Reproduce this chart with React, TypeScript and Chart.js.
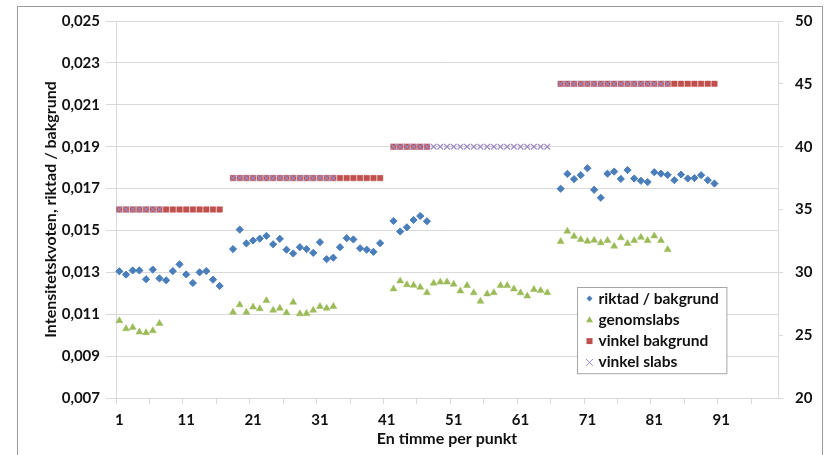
import React, { useEffect, useRef } from 'react';
import { Chart, registerables } from 'chart.js';

Chart.register(...registerables);

// ---- data ----
const categories: string[] = Array.from({ length: 99 }, (_, i) => String(i + 1));
const xTickLabels = ['1', '11', '21', '31', '41', '51', '61', '71', '81', '91'];
const segmentStarts = [1, 18, 42, 67];

const riktad1 = [0.01305, 0.01289, 0.01309, 0.01309, 0.01267, 0.01313, 0.01271, 0.01262, 0.01306, 0.01338, 0.0129, 0.01249, 0.013, 0.01306, 0.01265, 0.01235];
const riktad2 = [0.01411, 0.01504, 0.01438, 0.01452, 0.01461, 0.01474, 0.01434, 0.0146, 0.01408, 0.0139, 0.0142, 0.01411, 0.01393, 0.01444, 0.01363, 0.0137, 0.0142, 0.01463, 0.01457, 0.01415, 0.01408, 0.01398, 0.01439];
const riktad3 = [0.01545, 0.01495, 0.01515, 0.0155, 0.01569, 0.01544];
const riktad4 = [0.01699, 0.0177, 0.01745, 0.01764, 0.01797, 0.01694, 0.01656, 0.01771, 0.01781, 0.01746, 0.01788, 0.01748, 0.01737, 0.01731, 0.01778, 0.01771, 0.01765, 0.0174, 0.01767, 0.01748, 0.0175, 0.01764, 0.0174, 0.01724];

const genomslabs1 = [0.01069, 0.01031, 0.01037, 0.01015, 0.01012, 0.01021, 0.01056];
const genomslabs2 = [0.0111, 0.01145, 0.0111, 0.01134, 0.01126, 0.01165, 0.01119, 0.01129, 0.01107, 0.01157, 0.01102, 0.01104, 0.01119, 0.01137, 0.01129, 0.01137];
const genomslabs3 = [0.01221, 0.01259, 0.01241, 0.01238, 0.01229, 0.01203, 0.01248, 0.01254, 0.01254, 0.01243, 0.01211, 0.01237, 0.01202, 0.01162, 0.01197, 0.01203, 0.01237, 0.01237, 0.01221, 0.01202, 0.01187, 0.01218, 0.01213, 0.01203];
const genomslabs4 = [0.01447, 0.01496, 0.01472, 0.01457, 0.01449, 0.01453, 0.01441, 0.01452, 0.01425, 0.01465, 0.01438, 0.01452, 0.01467, 0.01452, 0.01474, 0.01452, 0.01409];

const vinkelBakgrund1 = [35, 35, 35, 35, 35, 35, 35, 35, 35, 35, 35, 35, 35, 35, 35, 35];
const vinkelBakgrund2 = [37.5, 37.5, 37.5, 37.5, 37.5, 37.5, 37.5, 37.5, 37.5, 37.5, 37.5, 37.5, 37.5, 37.5, 37.5, 37.5, 37.5, 37.5, 37.5, 37.5, 37.5, 37.5, 37.5];
const vinkelBakgrund3 = [40, 40, 40, 40, 40, 40];
const vinkelBakgrund4 = [45, 45, 45, 45, 45, 45, 45, 45, 45, 45, 45, 45, 45, 45, 45, 45, 45, 45, 45, 45, 45, 45, 45, 45];

const vinkelSlabs1 = [35, 35, 35, 35, 35, 35, 35];
const vinkelSlabs2 = [37.5, 37.5, 37.5, 37.5, 37.5, 37.5, 37.5, 37.5, 37.5, 37.5, 37.5, 37.5, 37.5, 37.5, 37.5, 37.5];
const vinkelSlabs3 = [40, 40, 40, 40, 40, 40, 40, 40, 40, 40, 40, 40, 40, 40, 40, 40, 40, 40, 40, 40, 40, 40, 40, 40];
const vinkelSlabs4 = [45, 45, 45, 45, 45, 45, 45, 45, 45, 45, 45, 45, 45, 45, 45, 45, 45];

const seriesNames = ['riktad / bakgrund', 'genomslabs', 'vinkel bakgrund', 'vinkel slabs'];
const leftTitle = 'Intensitetskvoten, riktad / bakgrund';
const xTitle = 'En timme per punkt';

// ---- styles ----
const FONT = 'Lato, "Open Sans", sans-serif';
const TEXT = '#111111';
const GRID = '#d9d9d9';
const BLUE = '#4A7EBB';
const GREEN = '#9BBB59';
const RED = '#C0504D';
const PURPLE = '#9C89C2';

function toPoints(segments: number[][]) {
  return segments.flatMap((seg, s) => seg.map((v, i) => ({ x: String(segmentStarts[s] + i), y: v })));
}

function drawMarker(ctx: CanvasRenderingContext2D, kind: number, x: number, y: number) {
  ctx.save();
  if (kind === 0) {
    ctx.fillStyle = BLUE;
    ctx.beginPath();
    ctx.moveTo(x, y - 3);
    ctx.lineTo(x + 3, y);
    ctx.lineTo(x, y + 3);
    ctx.lineTo(x - 3, y);
    ctx.closePath();
    ctx.fill();
  } else if (kind === 1) {
    ctx.fillStyle = GREEN;
    ctx.beginPath();
    ctx.moveTo(x, y - 3.5);
    ctx.lineTo(x + 3.5, y + 2.5);
    ctx.lineTo(x - 3.5, y + 2.5);
    ctx.closePath();
    ctx.fill();
  } else if (kind === 2) {
    ctx.fillStyle = RED;
    ctx.fillRect(x - 3, y - 3, 6, 6);
  } else {
    ctx.strokeStyle = PURPLE;
    ctx.lineWidth = 1;
    ctx.beginPath();
    ctx.moveTo(x - 3.5, y - 3.5);
    ctx.lineTo(x + 3.5, y + 3.5);
    ctx.moveTo(x + 3.5, y - 3.5);
    ctx.lineTo(x - 3.5, y + 3.5);
    ctx.stroke();
  }
  ctx.restore();
}

const boxLegend = {
  id: 'boxLegend',
  afterDraw(chart: any) {
    const { ctx, chartArea } = chart;
    ctx.save();
    ctx.font = `bold 15.5px ${FONT}`;
    const labels: string[] = chart.data.datasets.map((d: any) => d.label);
    const textW = Math.max(...labels.map((l) => ctx.measureText(l).width));
    const rowH = 21.3;
    const x0 = Math.round(chartArea.left + chartArea.width * 0.696) + 0.5;
    const y0 = Math.round(chartArea.top + chartArea.height * 0.706) + 0.5;
    const w = 21 + textW + 8;
    const h = rowH * labels.length + 1;
    ctx.fillStyle = '#ffffff';
    ctx.fillRect(x0, y0, w, h);
    ctx.strokeStyle = '#a6a6a6';
    ctx.lineWidth = 1;
    ctx.strokeRect(x0, y0, w, h);
    ctx.textBaseline = 'middle';
    ctx.textAlign = 'left';
    labels.forEach((l, i) => {
      const cy = y0 + 11 + i * rowH;
      drawMarker(ctx, i, x0 + 12, cy);
      ctx.fillStyle = TEXT;
      ctx.fillText(l, x0 + 21, cy);
    });
    ctx.restore();
  },
};

export default function App() {
  const ref = useRef<HTMLCanvasElement | null>(null);

  useEffect(() => {
    if (!ref.current) return;
    const tickFont = { family: FONT, size: 15, weight: 'bold' as const };
    const titleFont = { family: FONT, size: 16, weight: 'bold' as const };
    const chart = new Chart(ref.current, {
      type: 'line',
      data: {
        labels: categories,
        datasets: [
          {
            label: seriesNames[0],
            data: toPoints([riktad1, riktad2, riktad3, riktad4]) as any,
            yAxisID: 'y',
            showLine: false,
            pointStyle: 'rectRot',
            pointRadius: 3.6,
            pointBackgroundColor: BLUE,
            pointBorderColor: BLUE,
            pointBorderWidth: 1,
            backgroundColor: BLUE,
            borderColor: BLUE,
            order: 4,
          },
          {
            label: seriesNames[1],
            data: toPoints([genomslabs1, genomslabs2, genomslabs3, genomslabs4]) as any,
            yAxisID: 'y',
            showLine: false,
            pointStyle: 'triangle',
            pointRadius: 4,
            pointBackgroundColor: GREEN,
            pointBorderColor: GREEN,
            pointBorderWidth: 0.5,
            backgroundColor: GREEN,
            borderColor: GREEN,
            order: 3,
          },
          {
            label: seriesNames[2],
            data: toPoints([vinkelBakgrund1, vinkelBakgrund2, vinkelBakgrund3, vinkelBakgrund4]) as any,
            yAxisID: 'y1',
            showLine: false,
            pointStyle: 'rect',
            pointRadius: 3.9,
            pointBackgroundColor: RED,
            pointBorderColor: RED,
            pointBorderWidth: 0.5,
            backgroundColor: RED,
            borderColor: RED,
            order: 2,
          },
          {
            label: seriesNames[3],
            data: toPoints([vinkelSlabs1, vinkelSlabs2, vinkelSlabs3, vinkelSlabs4]) as any,
            yAxisID: 'y1',
            showLine: false,
            pointStyle: 'crossRot',
            pointRadius: 4,
            pointBackgroundColor: PURPLE,
            pointBorderColor: PURPLE,
            pointBorderWidth: 1.2,
            backgroundColor: PURPLE,
            borderColor: PURPLE,
            order: 1,
          },
        ],
      },
      options: {
        animation: false,
        responsive: false,
        layout: { padding: { left: 30, top: 19, right: 0, bottom: 0 } },
        plugins: {
          legend: { display: false },
          tooltip: { enabled: false },
        },
        scales: {
          x: {
            type: 'category',
            labels: categories,
            offset: true,
            grid: {
              offset: true,
              drawOnChartArea: false,
              tickLength: 6,
              color: (ctx: any) => (ctx.index !== undefined && ctx.index % 5 === 0 ? GRID : 'rgba(0,0,0,0)'),
            },
            border: { color: GRID },
            ticks: {
              autoSkip: false,
              maxRotation: 0,
              minRotation: 0,
              padding: 7,
              color: TEXT,
              font: tickFont,
              callback: (_v: any, i: number) => (xTickLabels.includes(categories[i]) ? categories[i] : ''),
            },
            title: {
              display: true,
              text: xTitle,
              color: TEXT,
              font: titleFont,
              padding: { top: 0, bottom: 7 },
            },
            afterFit: (s: any) => {
              s.height = 57;
            },
          },
          y: {
            type: 'linear',
            position: 'left',
            min: 0.007,
            max: 0.025,
            grid: { color: GRID, tickLength: 10 },
            border: { color: GRID },
            ticks: {
              stepSize: 0.002,
              padding: 6,
              color: TEXT,
              font: tickFont,
              callback: (v: any) => Number(v).toFixed(3).replace('.', ','),
            },
            title: {
              display: true,
              text: leftTitle,
              color: TEXT,
              font: titleFont,
              padding: { top: 11, bottom: 0 },
            },
            afterFit: (s: any) => {
              s.width = 86;
            },
          },
          y1: {
            type: 'linear',
            position: 'right',
            min: 20,
            max: 50,
            grid: { drawOnChartArea: false, color: GRID, tickLength: 5 },
            border: { color: GRID },
            ticks: {
              stepSize: 5,
              padding: 12,
              color: TEXT,
              font: tickFont,
            },
            afterFit: (s: any) => {
              s.width = 47;
            },
          },
        },
      },
      plugins: [boxLegend],
    });
    return () => chart.destroy();
  }, []);

  return (
    <div style={{ position: 'fixed', left: 0, top: 0, width: 825, height: 455, background: '#fff', overflow: 'hidden' }}>
      <div
        style={{
          position: 'absolute',
          left: 17,
          top: 6,
          width: 806,
          height: 470,
          border: '1px solid #9a9a9a',
          boxSizing: 'border-box',
        }}
      />
      <canvas
        ref={ref}
        width={825}
        height={455}
        style={{ position: 'absolute', left: 0, top: 0, width: 825, height: 455 }}
      />
    </div>
  );
}
